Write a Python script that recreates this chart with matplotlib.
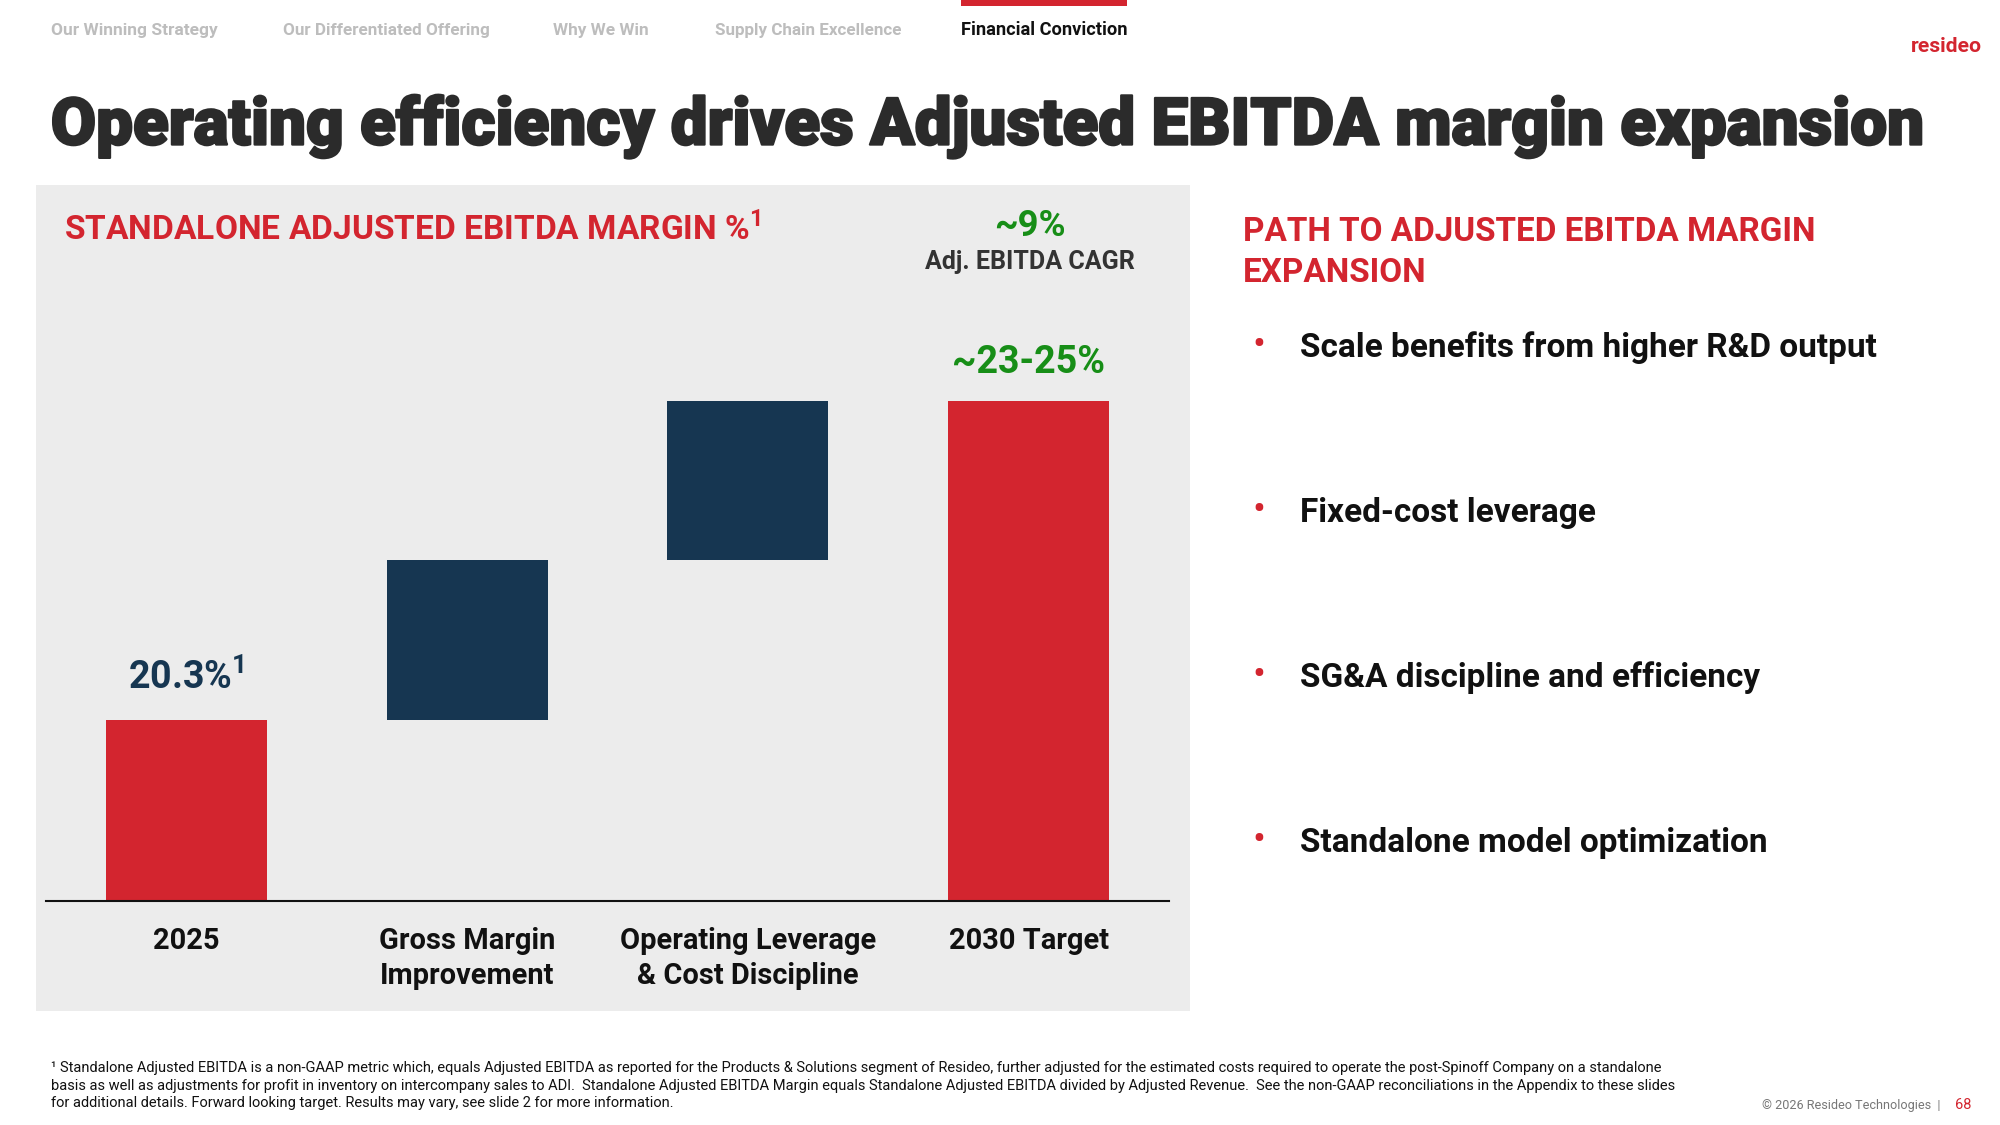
import matplotlib
matplotlib.use("Agg")
import matplotlib.pyplot as plt
import matplotlib.patheffects as pe
from matplotlib.patches import Rectangle

plt.rcParams['font.family'] = ['Roboto', 'DejaVu Sans']
plt.rcParams['mathtext.fontset'] = 'custom'
plt.rcParams['mathtext.rm'] = 'Roboto'
plt.rcParams['mathtext.bf'] = 'Roboto:bold'

# data
categories = ['2025', 'Gross Margin\nImprovement',
              'Operating Leverage\n& Cost Discipline', '2030 Target']
start_margin = 20.3
step_gains = [1.85, 1.85]
target_margin = 24.0
target_label = '~23-25%'
cagr_label = '~9%'
axis_floor = 18.2

nav_tabs = ['Our Winning Strategy', 'Our Differentiated Offering', 'Why We Win',
            'Supply Chain Excellence', 'Financial Conviction']
nav_x = [51, 284, 555, 717, 964]
nav_w = [167, 206, 96, 187, 166]

bullets = ['Scale benefits from higher R&D output', 'Fixed-cost leverage',
           'SG&A discipline and efficiency', 'Standalone model optimization']
bullet_y = [358, 524, 689, 855]

footnote = [
    '\u00b9 Standalone Adjusted EBITDA is a non-GAAP metric which, equals Adjusted EBITDA as reported for the Products & Solutions segment of Resideo, further adjusted for the estimated costs required to operate the post-Spinoff Company on a standalone',
    'basis as well as adjustments for profit in inventory on intercompany sales to ADI.  Standalone Adjusted EBITDA Margin equals Standalone Adjusted EBITDA divided by Adjusted Revenue.  See the non-GAAP reconciliations in the Appendix to these slides',
    'for additional details. Forward looking target. Results may vary, see slide 2 for more information.',
]

RED = '#D3252F'
NAVY = '#163651'
GREEN = '#178E17'
PANEL = '#ECECEC'
S = 0.997  # slide units -> pixels

fig = plt.figure(figsize=(20, 11.25), dpi=100)
fig.patch.set_facecolor('white')
renderer = fig.canvas.get_renderer()

bg = fig.add_axes([0, 0, 1, 1])
bg.set_xlim(0, 2000 / S)
bg.set_ylim(1125 / S, 0)
bg.axis('off')


def fit(t, width):
    w = t.get_window_extent(renderer).width
    t.set_fontsize(t.get_fontsize() * width * S / w)
    return t


def put(x, y, s, width, **kw):
    t = bg.text(x, y, s, fontsize=20, **kw)
    return fit(t, width)


# top navigation
for name, x, w in zip(nav_tabs, nav_x, nav_w):
    active = name == 'Financial Conviction'
    put(x, 35, name, w, color='#111111' if active else '#BDBDBD',
        fontweight='bold', va='baseline')
    if active:
        bg.add_patch(Rectangle((x, 0), w, 6, color=RED, lw=0))

put(1917, 52, 'resideo', 71, color=RED, fontweight='bold', va='baseline')

# title
title = put(51, 145, 'Operating efficiency drives Adjusted EBITDA margin expansion',
            1880, color='#2B2B2B', fontweight='black', va='baseline')
title.set_path_effects([pe.withStroke(linewidth=1.6, foreground='#2B2B2B')])

# left panel
bg.add_patch(Rectangle((36, 186), 1158, 828, color=PANEL, lw=0, zorder=0))
put(64, 241, 'STANDALONE ADJUSTED EBITDA MARGIN %$^{\\mathregular{1}}$', 700,
    color=RED, fontweight='bold', va='baseline')
put(1033, 237, cagr_label, 72, color=GREEN, fontweight='bold',
    ha='center', va='baseline')
put(1033, 270, 'Adj. EBITDA CAGR', 210, color='#333333', fontweight='bold',
    ha='center', va='baseline')

# waterfall chart
ax = fig.add_axes([46 / 2000, (1125 - 901) / 1125, 1123 / 2000, 651 / 1125])
ax.patch.set_alpha(0)
x = list(range(len(categories)))
heights = [start_margin - axis_floor] + step_gains + [target_margin - axis_floor]
bottoms = [axis_floor]
level = start_margin
for g in step_gains:
    bottoms.append(level)
    level += g
bottoms.append(axis_floor)
colors = [RED, NAVY, NAVY, RED]
ax.bar(x, heights, bottom=bottoms, width=0.574, color=colors, linewidth=0)
ax.set_xlim(-0.5, 3.5)
ax.set_ylim(axis_floor, 25.75)
for s in ['top', 'right', 'left']:
    ax.spines[s].set_visible(False)
ax.spines['bottom'].set_linewidth(1.5)
ax.spines['bottom'].set_color('#111111')
ax.set_yticks([])
ax.set_xticks(x)

probe = bg.text(0, 0, 'Operating Leverage', fontsize=20, fontweight='bold')
fit(probe, 256)
label_size = probe.get_fontsize()
probe.remove()
ax.set_xticklabels(categories, fontsize=label_size, fontweight='bold',
                   color='#111111', linespacing=1.33)
ax.tick_params(axis='x', length=0, pad=18.5)

t1 = ax.annotate(f'{start_margin}%' + '$^{\\mathregular{1}}$', (0, start_margin),
                 xytext=(0, 22), textcoords='offset points', ha='center',
                 va='baseline', color=NAVY, fontweight='bold', fontsize=20)
fit(t1, 117)
t2 = ax.annotate(target_label, (3, target_margin), xytext=(0, 20),
                 textcoords='offset points', ha='center', va='baseline',
                 color=GREEN, fontweight='bold', fontsize=20)
fit(t2, 153)

# right side
hdr = put(1247, 242, 'PATH TO ADJUSTED EBITDA MARGIN', 574, color=RED,
          fontweight='bold', va='baseline')
bg.text(1247, 283, 'EXPANSION', color=RED, fontweight='bold', va='baseline',
        fontsize=hdr.get_fontsize())
bullet_size = None
for b, yb in zip(bullets, bullet_y):
    t = bg.text(1304, yb, b, color='#111111', fontweight='bold', va='baseline',
                fontsize=20)
    if bullet_size is None:
        fit(t, 579)
        bullet_size = t.get_fontsize()
    else:
        t.set_fontsize(bullet_size)
    bg.text(1263, yb - 1, '\u2022', color=RED, fontsize=bullet_size * 1.15,
            ha='center', va='baseline')

# footnote
fn = None
for line, yb in zip(footnote, [1075, 1093, 1110]):
    t = bg.text(51, yb, line, color='#111111', va='baseline', fontsize=9)
    if fn is None:
        fit(t, 1630)
        fn = t.get_fontsize()
    else:
        t.set_fontsize(fn)

put(1946, 1112, '\u00a9 2026 Resideo Technologies  |', 178, color='#777777',
    ha='right', va='baseline')
bg.text(1961, 1112, '68', color=RED, va='baseline', fontsize=fn)

fig.savefig('out.png', dpi=100, facecolor='white')
